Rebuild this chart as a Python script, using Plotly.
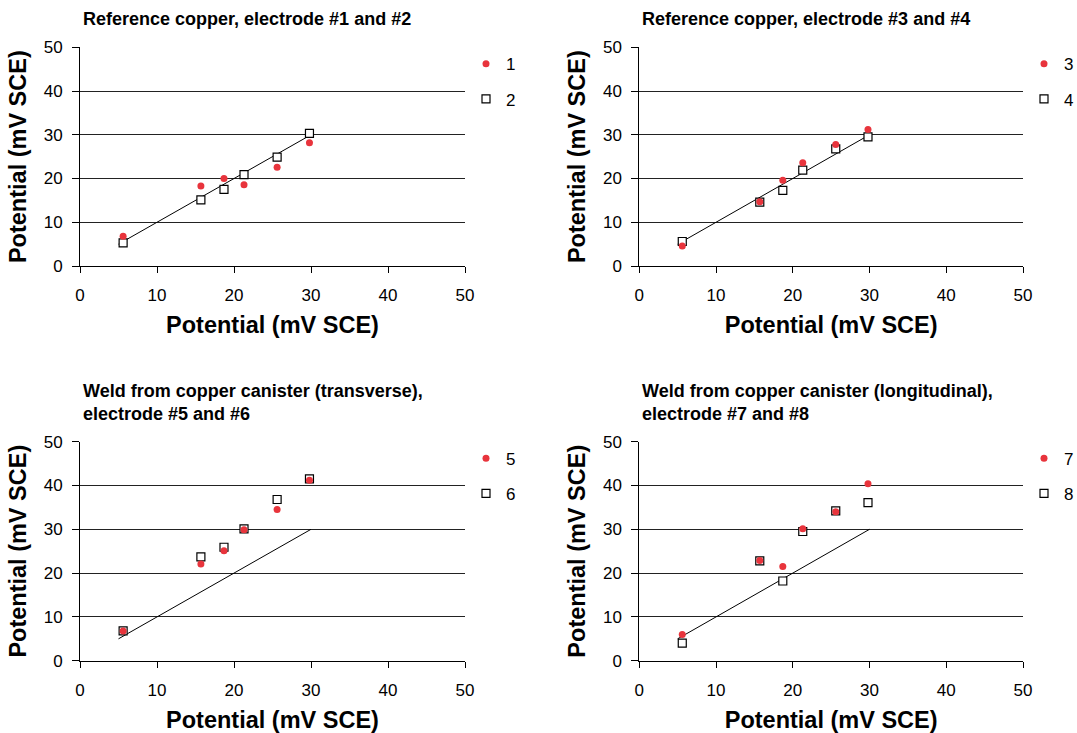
import plotly.graph_objects as go

W, H = 1077, 733

x_vals = [5.6, 15.7, 18.7, 21.3, 25.6, 29.8]
ref_x = [5, 30]
ref_y = [5, 30]

s1 = [6.8, 18.3, 20.0, 18.6, 22.6, 28.2]
s2 = [5.3, 15.1, 17.5, 20.9, 24.9, 30.3]
s3 = [4.6, 14.7, 19.6, 23.6, 27.8, 31.2]
s4 = [5.6, 14.6, 17.3, 21.9, 26.8, 29.5]
s5 = [6.8, 22.1, 25.1, 29.9, 34.5, 41.2]
s6 = [6.8, 23.7, 25.9, 30.1, 36.8, 41.5]
s7 = [6.0, 22.9, 21.5, 30.1, 34.0, 40.4]
s8 = [4.0, 22.8, 18.2, 29.5, 34.2, 36.1]

titles = [
    "Reference copper, electrode #1 and #2",
    "Reference copper, electrode #3 and #4",
    "Weld from copper canister (transverse),<br>electrode #5 and #6",
    "Weld from copper canister (longitudinal),<br>electrode #7 and #8",
]
names = [("1", "2"), ("3", "4"), ("5", "6"), ("7", "8")]
series = [(s1, s2), (s3, s4), (s5, s6), (s7, s8)]
axis_title = "Potential (mV SCE)"
ticks = [0, 10, 20, 30, 40, 50]

FONT = "Arial, Liberation Sans, sans-serif"
RED = "#e8343c"

# pixel geometry of plot areas: (left, right, top, bottom)
boxes = [
    (80, 465, 47.3, 266),
    (639.3, 1023, 47.3, 266),
    (80, 465, 441.7, 660.7),
    (639.3, 1023, 441.7, 660.7),
]
title_y = [19, 19, 402, 402]

fig = go.Figure()
layout = dict(
    width=W, height=H, margin=dict(l=0, r=0, t=0, b=0, autoexpand=False),
    paper_bgcolor="white", plot_bgcolor="white",
    font=dict(family=FONT, size=17, color="black"),
    showlegend=True,
)
annotations = []
for i in range(4):
    l, r, t, b = boxes[i]
    suf = "" if i == 0 else str(i + 1)
    xa, ya = "x" + suf, "y" + suf
    lg = "legend" + suf
    red_vals, sq_vals = series[i]
    n1, n2 = names[i]
    fig.add_trace(go.Scatter(x=ref_x, y=ref_y, mode="lines",
                             line=dict(color="black", width=1),
                             xaxis=xa, yaxis=ya, showlegend=False, hoverinfo="skip"))
    fig.add_trace(go.Scatter(x=x_vals, y=sq_vals, mode="markers", name=n2,
                             marker=dict(symbol="square", size=8, color="white",
                                         line=dict(color="black", width=1.2)),
                             xaxis=xa, yaxis=ya, legend=lg, legendrank=2,
                             legendgroup=f"g{i}b"))
    fig.add_trace(go.Scatter(x=x_vals, y=red_vals, mode="markers", name=n1,
                             marker=dict(symbol="circle", size=7, color=RED,
                                         line=dict(width=0)),
                             xaxis=xa, yaxis=ya, legend=lg, legendrank=1,
                             legendgroup=f"g{i}a"))
    xkey = "xaxis" + suf
    ykey = "yaxis" + suf
    layout[xkey] = dict(
        domain=[l / W, r / W], range=[0, 50], anchor=ya, automargin=False,
        tickvals=ticks, ticks="outside", ticklen=6, tickcolor="black",
        showline=True, linecolor="black", linewidth=1,
        showgrid=False, zeroline=False, ticklabelstandoff=8,
        tickfont=dict(size=17),
        title=dict(text="<b>" + axis_title + "</b>", font=dict(size=23.5), standoff=12),
    )
    layout[ykey] = dict(
        domain=[1 - b / H, 1 - t / H], range=[0, 50], anchor=xa, automargin=False,
        tickvals=ticks, ticks="outside", ticklen=7, tickcolor="black",
        showline=True, linecolor="black", linewidth=1,
        showgrid=True, gridcolor="#222", gridwidth=1, zeroline=False,
        ticklabelstandoff=6,
        tickfont=dict(size=17),
        title=dict(text="<b>" + axis_title + "</b>", font=dict(size=23.5), standoff=10),
    )
    layout[lg] = dict(
        x=(r + 1) / W, y=1 - (t - 1) / H, xanchor="left", yanchor="top",
        bgcolor="rgba(0,0,0,0)", font=dict(size=17),
        traceorder="grouped", tracegroupgap=10,
    )
    annotations.append(dict(
        text="<b>" + titles[i] + "</b>", xref="paper", yref="paper",
        x=(l + 1) / W, y=1 - title_y[i] / H, xanchor="left", yanchor="middle",
        align="left", showarrow=False, font=dict(size=18),
    ))
layout["annotations"] = annotations
fig.update_layout(**layout)
fig.write_html("out.html")
